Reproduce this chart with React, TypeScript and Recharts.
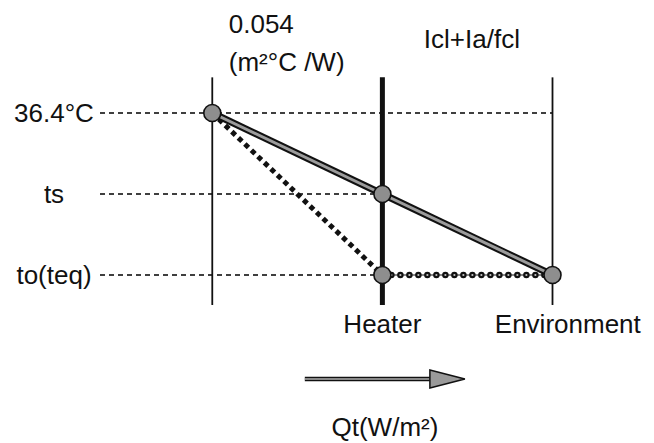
import {
  ComposedChart,
  Line,
  Scatter,
  XAxis,
  YAxis,
  ReferenceLine,
  ReferenceDot,
} from "recharts";

// temperature levels, bottom to top
const levelLabels = ["to(teq)", "ts", "36.4°C"];
// node each dashed guide runs to (0 skin, 1 heater, 2 environment)
const guideReach = [1, 1, 2];
const nodeLabels = ["", "Heater", "Environment"];

// level reached at each node along the paths
const clothingPath = [2, 1, 0]; // skin -> heater (ts) -> environment
const heaterPath = [2, 0]; // skin -> heater (to)
const airPath = [0, 0]; // heater -> environment

const skinResistance = ["0.054", "(m²°C /W)"];
const airResistance = "Icl+Ia/fcl";
const fluxLabel = "Qt(W/m²)";

const clothingData = clothingPath.map((y, x) => ({ x, y }));
const heaterData = heaterPath.map((y, x) => ({ x, y }));
const airData = airPath.map((y, i) => ({ x: i + 1, y }));
const nodePoints = [...clothingData, heaterData[1]];

const FONT = "'Liberation Sans', Arial, Helvetica, sans-serif";
const INK = "#111";
const GREY = "#8e8e8e";
const SIZE = 26;

function LevelTick({ x, y, payload }: any) {
  return (
    <text
      x={x - 38}
      y={y}
      textAnchor="middle"
      dominantBaseline="central"
      fontSize={SIZE}
      fontFamily={FONT}
      fill={INK}
    >
      {levelLabels[payload.value]}
    </text>
  );
}

function NodeDot({ cx, cy }: any) {
  return (
    <circle cx={cx} cy={cy} r={8.5} fill={GREY} stroke={INK} strokeWidth={1.6} />
  );
}

// text placed through the chart scales
const note =
  (lines: string[], anchor: "start" | "middle" = "middle") =>
  ({ cx, cy }: any) => (
    <text
      x={cx}
      y={cy}
      textAnchor={anchor}
      fontSize={SIZE}
      fontFamily={FONT}
      fill={INK}
    >
      {lines.map((t, i) => (
        <tspan key={i} x={cx} dy={i === 0 ? "0.36em" : 38}>
          {t}
        </tspan>
      ))}
    </text>
  );

function FlowArrow({ x1, y1, x2 }: any) {
  const head = 35;
  return (
    <g>
      <line x1={x1} y1={y1} x2={x2 - head} y2={y1} stroke={INK} strokeWidth={4.5} />
      <line x1={x1} y1={y1} x2={x2 - head} y2={y1} stroke="#b0b0b0" strokeWidth={1.5} />
      <polygon
        points={`${x2 - head},${y1 - 9} ${x2},${y1} ${x2 - head},${y1 + 9}`}
        fill="#9a9a9a"
        stroke={INK}
        strokeWidth={1.5}
      />
    </g>
  );
}

export default function App() {
  return (
    <div style={{ position: "absolute", left: 0, top: 0 }}>
      <ComposedChart
        width={654}
        height={443}
        margin={{ top: 0, right: 101.5, bottom: 0, left: 0 }}
      >
        <XAxis type="number" dataKey="x" domain={[-0.66, 2]} hide />
        <YAxis
          type="number"
          dataKey="y"
          domain={[-2.074, 3.395]}
          ticks={[0, 1, 2]}
          interval={0}
          axisLine={false}
          tickLine={false}
          width={100}
          tick={<LevelTick />}
        />

        {levelLabels.map((_, lv) => (
          <ReferenceLine
            key={"g" + lv}
            segment={[
              { x: -0.66, y: lv },
              { x: guideReach[lv], y: lv },
            ]}
            stroke="#000"
            strokeWidth={1.3}
            strokeDasharray="5 4"
            ifOverflow="visible"
          />
        ))}

        {nodeLabels.map((_, n) => (
          <ReferenceLine
            key={"v" + n}
            segment={[
              { x: n, y: -0.37 },
              { x: n, y: 2.44 },
            ]}
            stroke={INK}
            strokeWidth={n === 1 ? 5 : 1.8}
            ifOverflow="visible"
          />
        ))}

        <Line
          data={airData}
          dataKey="y"
          stroke={INK}
          strokeWidth={1.2}
          dot={false}
          activeDot={false}
          isAnimationActive={false}
        />
        <Line
          data={airData}
          dataKey="y"
          stroke={INK}
          strokeWidth={6.5}
          strokeDasharray="0 9"
          strokeLinecap="round"
          dot={false}
          activeDot={false}
          isAnimationActive={false}
        />
        <Line
          data={airData}
          dataKey="y"
          stroke="#c4c4c4"
          strokeWidth={2.2}
          strokeDasharray="0 9"
          strokeLinecap="round"
          dot={false}
          activeDot={false}
          isAnimationActive={false}
        />
        <Line
          data={heaterData}
          dataKey="y"
          stroke={INK}
          strokeWidth={5}
          strokeDasharray="5 4"
          dot={false}
          activeDot={false}
          isAnimationActive={false}
        />
        <Line
          data={clothingData}
          dataKey="y"
          stroke={INK}
          strokeWidth={7}
          dot={false}
          activeDot={false}
          isAnimationActive={false}
        />
        <Line
          data={clothingData}
          dataKey="y"
          stroke="#9c9c9c"
          strokeWidth={3}
          dot={false}
          activeDot={false}
          isAnimationActive={false}
        />
        <Scatter
          data={nodePoints}
          dataKey="y"
          shape={<NodeDot />}
          isAnimationActive={false}
        />

        <ReferenceDot
          x={0.097}
          y={3.105}
          r={0}
          ifOverflow="visible"
          shape={note(skinResistance, "start")}
        />
        <ReferenceDot
          x={1.526}
          y={2.914}
          r={0}
          ifOverflow="visible"
          shape={note([airResistance])}
        />
        {nodeLabels.map((t, n) =>
          t ? (
            <ReferenceDot
              key={"n" + n}
              x={n === 2 ? 2.09 : n}
              y={-0.605}
              r={0}
              ifOverflow="visible"
              shape={note([t])}
            />
          ) : null
        )}
        <ReferenceLine
          segment={[
            { x: 0.544, y: -1.284 },
            { x: 1.485, y: -1.284 },
          ]}
          ifOverflow="visible"
          shape={<FlowArrow />}
        />
        <ReferenceDot
          x={1.015}
          y={-1.877}
          r={0}
          ifOverflow="visible"
          shape={note([fluxLabel])}
        />
      </ComposedChart>
    </div>
  );
}
